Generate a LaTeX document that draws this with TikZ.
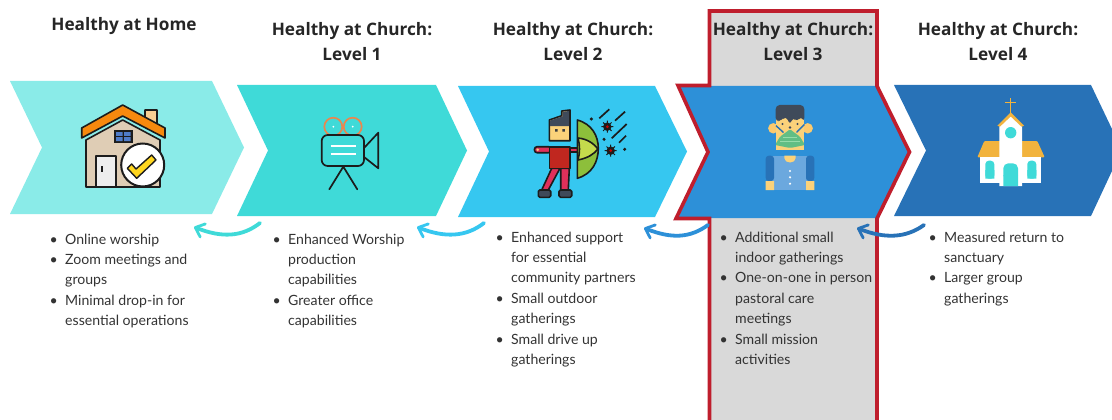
\documentclass[tikz,border=0pt]{standalone}
\usepackage{fontspec}
\setmainfont{Lato}
\newfontfamily\headfont{Open Sans}
\usetikzlibrary{arrows.meta}
\definecolor{cA}{HTML}{8AEBE8}
\definecolor{cB}{HTML}{3FDAD8}
\definecolor{cC}{HTML}{36C7F0}
\definecolor{cD}{HTML}{2D90D8}
\definecolor{cE}{HTML}{2872B7}
\definecolor{redline}{HTML}{BF1E2D}
\definecolor{panel}{HTML}{D9D9D9}
\definecolor{ink}{HTML}{1C1C1C}
\definecolor{slate}{HTML}{3F4A5A}
\definecolor{skin}{HTML}{FBD27A}
\definecolor{roofy}{HTML}{F2B33D}
\definecolor{chim}{HTML}{F9CF93}
\definecolor{wall}{HTML}{DFCDB5}
\definecolor{rooforange}{HTML}{F7890E}
\definecolor{check}{HTML}{FFD61F}
\definecolor{reel}{HTML}{E9874F}
\definecolor{pink}{HTML}{E0305A}
\definecolor{shirt}{HTML}{C0271F}
\definecolor{umbA}{HTML}{8DBF3B}
\definecolor{umbB}{HTML}{C5DB4C}
\definecolor{maskA}{HTML}{62BE84}
\definecolor{maskB}{HTML}{96DCAA}
\definecolor{vest}{HTML}{6BA8DE}
\definecolor{pane}{HTML}{4F7CC9}
\tikzset{
  titlebox/.style={font=\headfont\fontsize{17.2}{25.5}\selectfont\bfseries, text=black!85, align=center, inner sep=0pt},
  listbox/.style={font=\fontsize{14.1}{20.4}\selectfont, text=black!80, align=left, inner sep=0pt, anchor=north west},
  backarrow/.style={line width=3.8pt, line cap=round, -{Straight Barb[length=8pt,width=14pt,line width=2.8pt,round]}},
  outl/.style={draw=ink, line width=1.6pt, line join=round},
}
\newcommand{\bul}{\leavevmode\llap{•\hspace{7.5pt}}}
\newcommand{\chev}[7]{\fill[#7] (#1,#2) -- (#3,#2) -- (#4,{(#2+#5)/2}) -- (#3,#5) -- (#1,#5) -- (#6,{(#2+#5)/2}) -- cycle;}
\begin{document}
\begin{tikzpicture}[x=1pt,y=-1pt]
\useasboundingbox (0,0) rectangle (1112,420);
% panel
\fill[panel] (709,11) rectangle (877,420);
% chevrons
\chev{10}{81}{212}{244}{214}{42}{cA}
\chev{237}{85}{436}{467}{216}{268}{cB}
\chev{458}{86}{655}{687}{217}{489}{cC}
\fill[cE] (894,85) -- (1091,85) -- (1112,129) -- (1112,171) -- (1091,216) -- (894,216) -- (926,150.5) -- cycle;
% level 3 chevron and outline
\chev{678}{86}{876}{909}{218}{709}{cD}
\draw[redline, line width=3.6pt, line join=miter]
  (709.5,420) -- (709.5,218.5) -- (676,218.5) -- (708,152) -- (678,85.5) -- (709.5,85.5) -- (709.5,11) -- (877,11)
  -- (877,86) -- (909.5,152) -- (877,218.5) -- (877,420);
% titles
\node[titlebox] (t0) at (124,26) {Healthy at Home};
\node[titlebox] (t1) at (352,41.5) {Healthy at Church:\\Level 1};
\node[titlebox] (t2) at (573,41.5) {Healthy at Church:\\Level 2};
\node[titlebox] (t3) at (793,41.5) {Healthy at Church:\\Level 3};
\node[titlebox] (t4) at (998,41.5) {Healthy at Church:\\Level 4};
% lists
\node[listbox] (l0) at (65,233.5) {\bul Online worship\\\bul Zoom meetings and\\groups\\\bul Minimal drop-in for\\essential operations};
\node[listbox] (l1) at (288,233.5) {\bul Enhanced Worship\\production\\capabilities\\\bul Greater office\\capabilities};
\node[listbox] (l2) at (511,231.5) {\bul Enhanced support\\for essential\\community partners\\\bul Small outdoor\\gatherings\\\bul Small drive up\\gatherings};
\node[listbox] (l3) at (735,231.5) {\bul Additional small\\indoor gatherings\\\bul One-on-one in person\\pastoral care\\meetings\\\bul Small mission\\activities};
\node[listbox] (l4) at (944,231.5) {\bul Measured return to\\sanctuary\\\bul Larger group\\gatherings};
% back arrows
\coordinate (s1) at (260,223); \coordinate (e1) at (194,227);
\coordinate (s2) at (484,223); \coordinate (e2) at (417,227);
\coordinate (s3) at (708,225); \coordinate (e3) at (644,228);
\coordinate (s4) at (924,225); \coordinate (e4) at (857,228);
\draw[backarrow, cB] (s1) .. controls +(-18,14) and +(28,11) .. (e1);
\draw[backarrow, cC] (s2) .. controls +(-18,14) and +(28,11) .. (e2);
\draw[backarrow, cD] (s3) .. controls +(-18,13) and +(28,11) .. (e3);
\draw[backarrow, cE] (s4) .. controls +(-18,13) and +(28,11) .. (e4);
% house icon
\draw[outl, fill=chim] (145,110) -- (157,110) -- (157,126) -- (145,120) -- cycle;
\draw[outl, fill=wall] (86,140) -- (122.7,120) -- (160,140) -- (160,187) -- (86,187) -- cycle;
\draw[outl, fill=rooforange] (122.7,105) -- (165,128) -- (165,138) -- (122.7,116) -- (81.7,138) -- (81.7,128) -- cycle;
\fill[ink] (114,130) rectangle (132.7,143);
\fill[pane] (116,132) rectangle (122.6,135.8) (124.1,132) rectangle (130.7,135.8) (116,137.2) rectangle (122.6,141) (124.1,137.2) rectangle (130.7,141);
\draw[outl, fill=black!7] (96,156) rectangle (115.7,187);
\fill[ink] (100.7,166) rectangle (103.3,172);
\draw[ink, line width=2pt, fill=white] (142.7,165) circle (21.5);
\draw[ink, line width=1.4pt, fill=check, line join=round] (127.3,168.3) -- (131.7,164) -- (136,169) -- (151.7,155) -- (156,160) -- (136.7,178.3) -- cycle;
% camera icon
\draw[line width=1.7pt, draw=reel] (333.3,126.7) circle (9) (352.7,126.7) circle (9);
\fill[white] (333.3,126.7) circle (1) (352.7,126.7) circle (1);
\draw[ink, line width=1.7pt, rounded corners=6pt, fill=cB] (321.7,135) rectangle (364,166);
\draw[ink, line width=1.7pt, line join=round] (364,148) -- (378.3,132.7) -- (378.3,168.3) -- (364,157);
\draw[white, line width=1.4pt] (330.7,146) -- (356,146) (330.7,154) -- (356,154);
\draw[ink, line width=1.7pt, line cap=round] (329.3,189.3) -- (343.3,166.7) -- (357.3,189.3);
% archer icon
\draw[outl, fill=pink] (551.7,168.3) -- (560,168.3) -- (548.3,190) -- (541.7,190) -- cycle;
\draw[outl, fill=pink] (560.7,168.3) -- (569.3,168.3) -- (568.3,190) -- (560.7,190) -- cycle;
\draw[outl, fill=slate, rounded corners=1.5pt] (538.3,190) rectangle (550.7,197.3);
\draw[outl, fill=slate, rounded corners=1.5pt] (559,190) rectangle (571.7,197.3);
\draw[outl, fill=pink, rounded corners=2.5pt] (534.5,146.7) rectangle (551,152.7);
\fill[skin] (537.7,149.7) circle (1.4);
\draw[outl, fill=pink] (568,147.7) rectangle (578,151.7);
\draw[outl, fill=shirt] (549.3,146.7) rectangle (570,168.3);
\draw[outl, fill=skin] (549.3,120) -- (561.7,115.7) -- (561.7,111) -- (570,110) -- (570,140.7) -- (549.3,140.7) -- cycle;
\fill[slate] (550.1,120.6) -- (562.5,116.3) -- (562.5,111.8) -- (569.2,111) -- (569.2,126) -- (550.1,126) -- cycle;
\fill[ink!85] (555,129) rectangle (557.5,131.5) (562.3,129) rectangle (564.8,131.5);
\draw[outl, fill=umbA] (577.3,120) .. controls (592,124) and (598.3,136) .. (598.3,148.3) .. controls (598.3,162) and (592,174) .. (577.3,178.3) -- cycle;
\draw[outl, fill=umbB] (578,138) .. controls (588,139) and (594,144) .. (598,149) .. controls (594,154) and (588,158) .. (578,160) .. controls (580,153) and (580,145) .. (578,138) -- cycle;
\foreach \cx/\cy in {607.3/126.7, 610.7/150.7}{
  \draw[ink, line width=1pt] (\cx-6,\cy) -- (\cx+6,\cy) (\cx,\cy-6) -- (\cx,\cy+6) (\cx-4.2,\cy-4.2) -- (\cx+4.2,\cy+4.2) (\cx-4.2,\cy+4.2) -- (\cx+4.2,\cy-4.2);
  \fill[ink] (\cx,\cy) circle (4.2);
  \fill[red!80!black] (\cx,\cy) circle (1.5);
}
\draw[ink, line width=1.7pt] (599.3,118.3) -- (609.3,109.3) (615,120.7) -- (625,111.7) (611.7,138.3) -- (626.7,124) (619,142.7) -- (626,135.7);
\fill[ink] (591.3,119) circle (1.7) (604,139.3) circle (1.7) (624.7,149.3) circle (1.7);
% masked person icon
\fill[skin!90!orange] (773.3,128.3) circle (5.2) (807.7,128.3) circle (5.2);
\fill[skin] (775.7,112) rectangle (804.3,150);
\fill[slate, rounded corners=4pt] (775.7,122) -- (775.7,105) -- (804.3,105) -- (804.3,122) -- (801,116) -- (797,122) -- (793,117) -- (790,125) -- (786,116) -- (782,120) -- cycle;
\fill[slate] (782.5,124) circle (1.2) (797.5,124) circle (1.2) (790,127.5) circle (1.3);
\draw[cE, line width=1.4pt] (776,125.7) -- (783.5,132.5) (804.3,124.5) -- (796.5,132.5);
\fill[maskA, rounded corners=1.5pt] (790,129.3) -- (800,136.7) -- (805,145) -- (790,148) -- (775,145) -- (780,136.7) -- cycle;
\draw[maskB, line width=1pt] (783,137) -- (797,137) (780,141.5) -- (800,141.5);
\fill[vest] (770,155.7) rectangle (810,190);
\fill[cE, rounded corners=3pt] (765.7,181) -- (765.7,155.7) -- (774,155.7) -- (774,181) -- cycle;
\fill[cE, rounded corners=3pt] (806,181) -- (806,155.7) -- (814.3,155.7) -- (814.3,181) -- cycle;
\fill[skin] (765.7,181) rectangle (774,190) (806,181) rectangle (814.3,190);
\fill[skin] (784.3,155.7) -- (795.7,155.7) -- (795.7,158) .. controls (795.7,164) and (784.3,164) .. (784.3,158) -- cycle;
\fill[white] (790,171) circle (1.2) (790,177.3) circle (1.2) (790,183.7) circle (1.2);
% church icon
\draw[roofy, line width=1.3pt] (1010.7,98.3) -- (1010.7,113.3) (1005.3,102.3) -- (1016,102.3);
\fill[roofy, rounded corners=1pt] (984.3,141) -- (1037.3,141) -- (1044.7,157.3) -- (977.3,157.3) -- cycle;
\fill[white] (980,157.3) rectangle (1041.3,183.3);
\fill[white] (999.3,125) -- (1010.7,116) -- (1022,125) -- (1022,186) -- (999.3,186) -- cycle;
\fill[roofy] (1010.7,112.3) -- (1024,125.7) -- (1021.5,126.7) -- (1010.7,116.5) -- (999.9,126.7) -- (997.4,125.7) -- cycle;
\fill[cB] (1010.7,132.7) circle (5.7);
\fill[cB, rounded corners=3.5pt] (985.3,178.7) -- (985.3,160.7) -- (994.3,160.7) -- (994.3,178.7) -- cycle;
\fill[cB, rounded corners=3.5pt] (1027.3,178.7) -- (1027.3,160.7) -- (1036.3,160.7) -- (1036.3,178.7) -- cycle;
\fill[cB] (985.3,170) rectangle (994.3,178.7) (1027.3,170) rectangle (1036.3,178.7) (1003.3,175) rectangle (1018,186);
\fill[cB, rounded corners=5pt] (1003.3,180) -- (1003.3,163.3) -- (1018,163.3) -- (1018,180) -- cycle;
\end{tikzpicture}
\end{document}
